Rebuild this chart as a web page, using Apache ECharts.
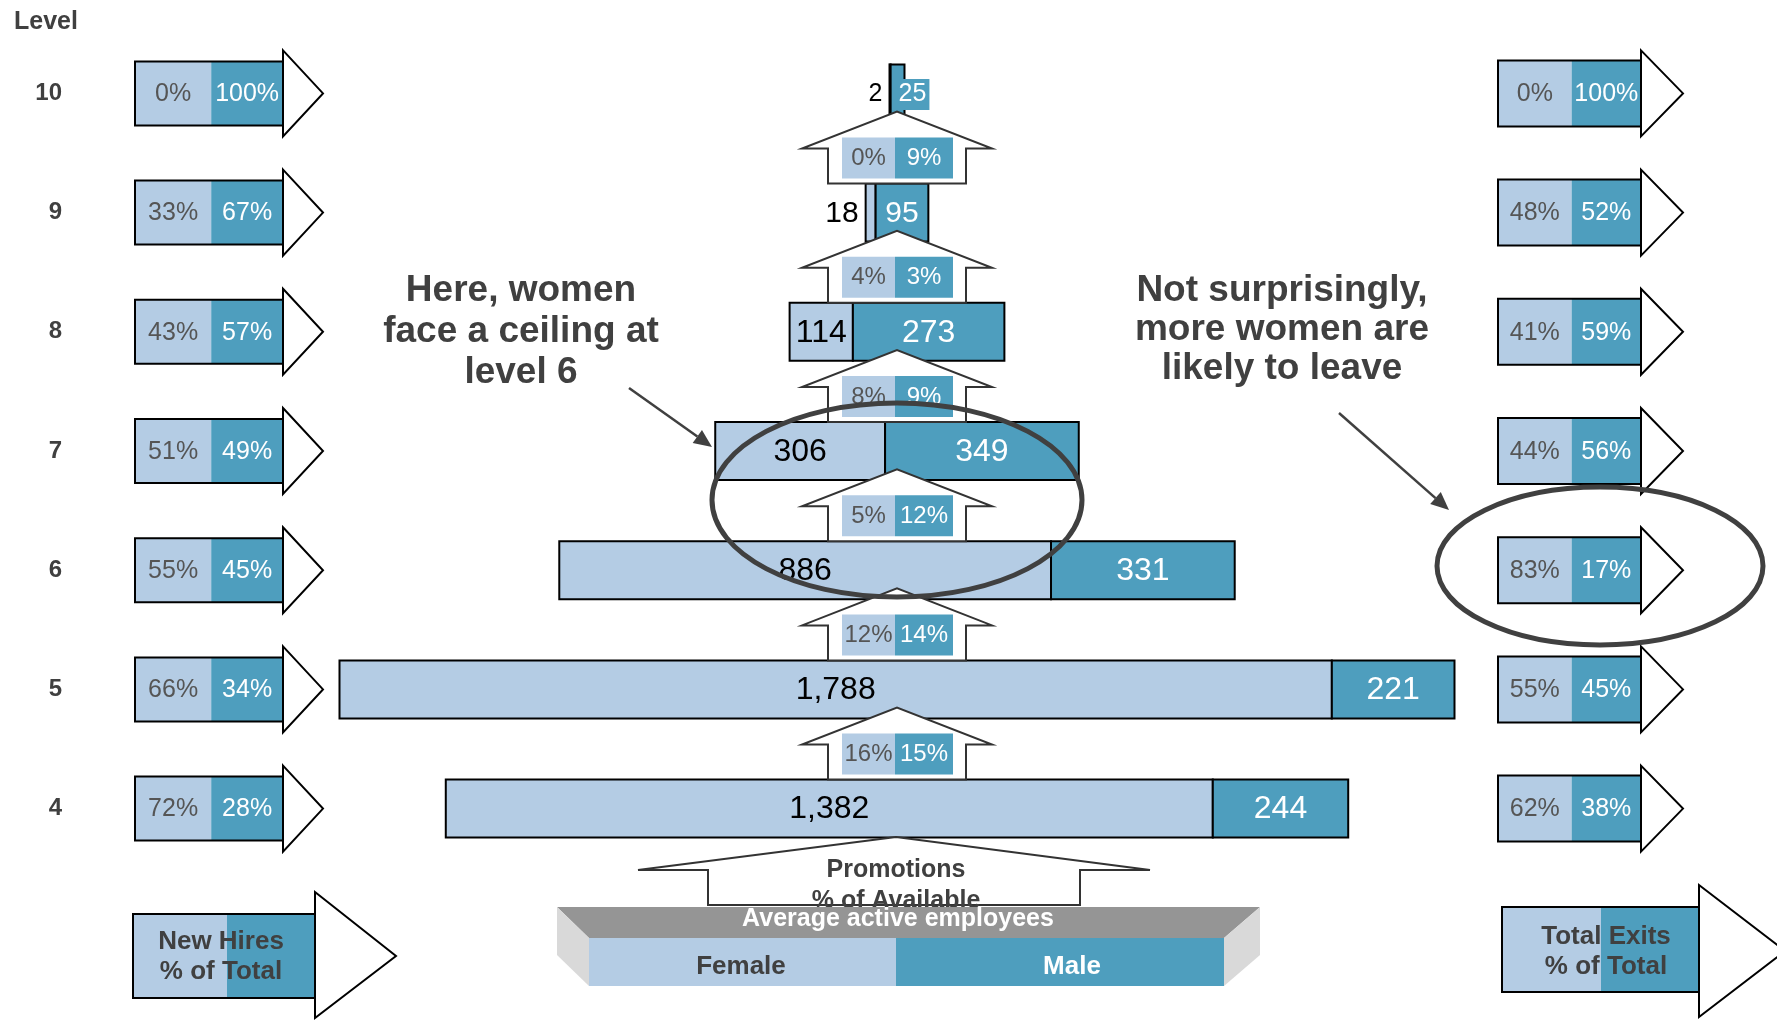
<!DOCTYPE html>
<html>
<head>
<meta charset="utf-8">
<title>Workforce pipeline by level</title>
<script src="https://cdn.jsdelivr.net/npm/echarts@6/dist/echarts.min.js"></script>
<style>
  html, body { margin: 0; padding: 0; background: #ffffff; }
  #chart { width: 1777px; height: 1020px; }
</style>
</head>
<body>
<div id="chart"></div>
<script>
// Job levels, bottom to top
const levels = ['4', '5', '6', '7', '8', '9', '10'];

// Average active employees per level
const femaleEmployees = [1382, 1788, 886, 306, 114, 18, 2];
const maleEmployees   = [244, 221, 331, 349, 273, 95, 25];

// New hires, % of total per level
const hiresFemalePct = [72, 66, 55, 51, 43, 33, 0];
const hiresMalePct   = [28, 34, 45, 49, 57, 67, 100];

// Total exits, % of total per level
const exitsFemalePct = [62, 55, 83, 44, 41, 48, 0];
const exitsMalePct   = [38, 45, 17, 56, 59, 52, 100];

// Promotions, % of available, from each level to the one above (4→5 … 9→10)
const promoFemalePct = [16, 12, 5, 8, 4, 0];
const promoMalePct   = [15, 14, 12, 9, 3, 9];

const LIGHT = '#b4cce4';
const DARK = '#4e9ebe';
const INK = '#404040';
const FONT = "'Liberation Sans', Arial, Helvetica, sans-serif";

const GRID_TOP = 33.8;
const GRID_H = 834.4;
const BAR_H = 58;

function txt(text, x, y, opts) {
  return {
    type: 'text',
    style: Object.assign({
      text: text, x: x, y: y,
      align: 'center', verticalAlign: 'middle',
      fontFamily: FONT, fontSize: 24, fill: INK
    }, opts || {})
  };
}

// Centered population bar: female part on the left, male part on the right
function renderPopulation(params, api) {
  const idx = api.value(0);
  const f = api.value(1);
  const m = api.value(2);
  const half = (f + m) / 2;
  const pL = api.coord([-half, idx]);
  const pS = api.coord([-half + f, idx]);
  const pR = api.coord([half, idx]);
  const cy = pL[1];
  const y = cy - BAR_H / 2;
  const totalW = pR[0] - pL[0];
  const fw = pS[0] - pL[0];
  const mw = pR[0] - pS[0];
  const fs = totalW > 120 ? 32 : (totalW > 40 ? 30 : 25);
  const children = [
    { type: 'rect', shape: { x: pL[0], y: y, width: fw, height: BAR_H },
      style: { fill: LIGHT, stroke: '#000', lineWidth: 2 } },
    { type: 'rect', shape: { x: pS[0], y: y, width: mw, height: BAR_H },
      style: { fill: DARK, stroke: '#000', lineWidth: 2 } }
  ];
  const fText = f.toLocaleString('en-US');
  const mText = m.toLocaleString('en-US');
  if (fw > 50) {
    children.push(txt(fText, (pL[0] + pS[0]) / 2, cy + 1, { fill: '#000', fontSize: fs }));
  } else {
    children.push(txt(fText, pL[0] - 7, cy + 1, { fill: '#000', fontSize: fs, align: 'right' }));
  }
  if (mw > 40) {
    children.push(txt(mText, (pS[0] + pR[0]) / 2, cy + 1, { fill: '#fff', fontSize: fs }));
  } else {
    children.push(txt(mText, pS[0] + 5, cy + 1, {
      fill: '#fff', fontSize: fs, align: 'left',
      backgroundColor: DARK, padding: [4, 3, 2, 3]
    }));
  }
  return { type: 'group', children: children };
}

// Upward "house" arrow between two levels with promotion rates
function renderPromotion(params, api) {
  const idx = api.value(0);
  const fp = api.value(1);
  const mp = api.value(2);
  const c = api.coord([0, idx]);
  const cx = c[0];
  const yb = c[1] - BAR_H / 2;
  const pts = [
    [cx - 69, yb], [cx - 69, yb - 35], [cx - 95, yb - 35], [cx, yb - 72],
    [cx + 95, yb - 35], [cx + 69, yb - 35], [cx + 69, yb]
  ];
  return {
    type: 'group',
    children: [
      { type: 'polygon', shape: { points: pts }, style: { fill: '#fff', stroke: '#333', lineWidth: 2 } },
      { type: 'rect', shape: { x: cx - 55, y: yb - 46, width: 53, height: 41 }, style: { fill: LIGHT } },
      { type: 'rect', shape: { x: cx - 2, y: yb - 46, width: 58, height: 41 }, style: { fill: DARK } },
      txt(fp + '%', cx - 28.5, yb - 25, { fill: '#555', fontSize: 24 }),
      txt(mp + '%', cx + 27, yb - 25, { fill: '#fff', fontSize: 24 })
    ]
  };
}

// Two-cell box with an arrow head on the right (new hires / exits)
function makeSplitArrow(headLen, boxH) {
  return function (params, api) {
    const idx = api.value(0);
    const fp = api.value(1);
    const mp = api.value(2);
    const a = api.coord([0, idx]);
    const b = api.coord([1, idx]);
    const x0 = a[0], x1 = b[0], cy = a[1];
    const y = cy - boxH / 2;
    const xs = x0 + (x1 - x0) * 0.515;
    return {
      type: 'group',
      children: [
        { type: 'polygon', shape: { points: [[x1, cy - 43], [x1 + headLen, cy], [x1, cy + 43]] },
          style: { fill: '#fff', stroke: '#000', lineWidth: 2 } },
        { type: 'rect', shape: { x: x0, y: y, width: xs - x0, height: boxH }, style: { fill: LIGHT } },
        { type: 'rect', shape: { x: xs, y: y, width: x1 - xs, height: boxH }, style: { fill: DARK } },
        { type: 'rect', shape: { x: x0, y: y, width: x1 - x0, height: boxH },
          style: { fill: 'none', stroke: '#000', lineWidth: 2 } },
        txt(fp + '%', (x0 + xs) / 2, cy + 1, { fill: '#555', fontSize: 25 }),
        txt(mp + '%', (xs + x1) / 2, cy + 1, { fill: '#fff', fontSize: 25 })
      ]
    };
  };
}

function arrowLine(x1, y1, x2, y2) {
  const ang = Math.atan2(y2 - y1, x2 - x1);
  const L = 18, W = 8;
  const bx = x2 - L * Math.cos(ang);
  const by = y2 - L * Math.sin(ang);
  const px = -Math.sin(ang) * W;
  const py = Math.cos(ang) * W;
  return [
    { type: 'line', z: 100, shape: { x1: x1, y1: y1, x2: bx, y2: by },
      style: { stroke: INK, lineWidth: 2.5 } },
    { type: 'polygon', z: 100, shape: { points: [[x2, y2], [bx + px, by + py], [bx - px, by - py]] },
      style: { fill: INK } }
  ];
}

function gText(text, x, y, opts, z) {
  return {
    type: 'text', z: z || 100,
    style: Object.assign({
      text: text, x: x, y: y, align: 'center', verticalAlign: 'middle',
      fontFamily: FONT, fontSize: 25, fontWeight: 'bold', fill: INK
    }, opts || {})
  };
}

const chart = echarts.init(document.getElementById('chart'));

const graphics = [
  // Annotations
  gText('Here, women\nface a ceiling at\nlevel 6', 521, 332, { fontSize: 37, lineHeight: 41 }),
  gText('Not surprisingly,\nmore women are\nlikely to leave', 1282, 330, { fontSize: 37, lineHeight: 39 }),
  { type: 'ellipse', z: 100, shape: { cx: 897, cy: 500, rx: 185, ry: 97 },
    style: { fill: 'none', stroke: INK, lineWidth: 5 } },
  { type: 'ellipse', z: 100, shape: { cx: 1600, cy: 566, rx: 163, ry: 79 },
    style: { fill: 'none', stroke: INK, lineWidth: 5 } }
]
  .concat(arrowLine(629, 388, 712, 447))
  .concat(arrowLine(1339, 413, 1449, 510))
  .concat([
    // Promotions key arrow
    { type: 'polygon', z: 10,
      shape: { points: [[708, 905], [708, 870], [638, 870], [896, 837], [1150, 870], [1080, 870], [1080, 905]] },
      style: { fill: '#fff', stroke: '#333', lineWidth: 2 } },
    gText('Promotions', 896, 870, {}, 11),
    gText('% of Available', 896, 901, {}, 11),
    // Average active employees key box
    { type: 'polygon', z: 12, shape: { points: [[557, 907], [1260, 907], [1224, 938], [589, 938]] },
      style: { fill: '#959595' } },
    { type: 'polygon', z: 12, shape: { points: [[557, 907], [589, 938], [589, 986], [557, 955]] },
      style: { fill: '#d9d9d9' } },
    { type: 'polygon', z: 12, shape: { points: [[1260, 907], [1224, 938], [1224, 986], [1260, 955]] },
      style: { fill: '#d9d9d9' } },
    { type: 'rect', z: 12, shape: { x: 589, y: 938, width: 307, height: 48 }, style: { fill: LIGHT } },
    { type: 'rect', z: 12, shape: { x: 896, y: 938, width: 328, height: 48 }, style: { fill: DARK } },
    gText('Average active employees', 898, 919, { fill: '#fff' }, 13),
    gText('Female', 741, 967, { fontSize: 26 }, 13),
    gText('Male', 1072, 967, { fontSize: 26, fill: '#fff' }, 13),
    // New hires key
    { type: 'polygon', z: 10, shape: { points: [[315, 892], [396, 956], [315, 1018]] },
      style: { fill: '#fff', stroke: '#000', lineWidth: 2 } },
    { type: 'rect', z: 10, shape: { x: 133, y: 914, width: 94, height: 84 }, style: { fill: LIGHT } },
    { type: 'rect', z: 10, shape: { x: 227, y: 914, width: 88, height: 84 }, style: { fill: DARK } },
    { type: 'rect', z: 10, shape: { x: 133, y: 914, width: 182, height: 84 },
      style: { fill: 'none', stroke: '#000', lineWidth: 2 } },
    gText('New Hires', 221, 942, { fontSize: 26 }, 11),
    gText('% of Total', 221, 972, { fontSize: 26 }, 11),
    // Total exits key
    { type: 'polygon', z: 10, shape: { points: [[1699, 885], [1785, 951], [1699, 1017]] },
      style: { fill: '#fff', stroke: '#000', lineWidth: 2 } },
    { type: 'rect', z: 10, shape: { x: 1502, y: 907, width: 99, height: 85 }, style: { fill: LIGHT } },
    { type: 'rect', z: 10, shape: { x: 1601, y: 907, width: 98, height: 85 }, style: { fill: DARK } },
    { type: 'rect', z: 10, shape: { x: 1502, y: 907, width: 197, height: 85 },
      style: { fill: 'none', stroke: '#000', lineWidth: 2 } },
    gText('Total Exits', 1606, 937, { fontSize: 26 }, 11),
    gText('% of Total', 1606, 967, { fontSize: 26 }, 11)
  ]);

const option = {
  animation: false,
  backgroundColor: '#ffffff',
  title: {
    text: 'Level', left: 9, top: 5,
    textStyle: { fontSize: 25, fontWeight: 'bold', color: INK, fontFamily: FONT }
  },
  grid: [
    { left: 286.5, width: 1221, top: GRID_TOP, height: GRID_H },
    { left: 135, width: 148, top: GRID_TOP, height: GRID_H },
    { left: 1498, width: 143, top: GRID_TOP, height: GRID_H }
  ],
  xAxis: [
    { type: 'value', gridIndex: 0, min: -1100, max: 1100, show: false },
    { type: 'value', gridIndex: 1, min: 0, max: 1, show: false },
    { type: 'value', gridIndex: 2, min: 0, max: 1, show: false }
  ],
  yAxis: [
    { type: 'category', gridIndex: 0, data: levels, show: false },
    {
      type: 'category', gridIndex: 1, data: levels,
      axisLine: { show: false }, axisTick: { show: false }, splitLine: { show: false },
      axisLabel: { margin: 73, fontSize: 24, fontWeight: 'bold', color: INK, fontFamily: FONT }
    },
    { type: 'category', gridIndex: 2, data: levels, show: false }
  ],
  series: [
    {
      type: 'custom', name: 'Average active employees', xAxisIndex: 0, yAxisIndex: 0, z: 2,
      data: levels.map((l, i) => [i, femaleEmployees[i], maleEmployees[i]]),
      encode: { y: 0, x: [1, 2] },
      renderItem: renderPopulation
    },
    {
      type: 'custom', name: 'Promotions % of available', xAxisIndex: 0, yAxisIndex: 0, z: 3,
      data: promoFemalePct.map((p, i) => [i, p, promoMalePct[i]]),
      encode: { y: 0 },
      renderItem: renderPromotion
    },
    {
      type: 'custom', name: 'New hires % of total', xAxisIndex: 1, yAxisIndex: 1, z: 2,
      data: levels.map((l, i) => [i, hiresFemalePct[i], hiresMalePct[i]]),
      encode: { y: 0 },
      renderItem: makeSplitArrow(40, 64)
    },
    {
      type: 'custom', name: 'Total exits % of total', xAxisIndex: 2, yAxisIndex: 2, z: 2,
      data: levels.map((l, i) => [i, exitsFemalePct[i], exitsMalePct[i]]),
      encode: { y: 0 },
      renderItem: makeSplitArrow(42, 66)
    }
  ],
  graphic: graphics
};

chart.setOption(option);
</script>
</body>
</html>
